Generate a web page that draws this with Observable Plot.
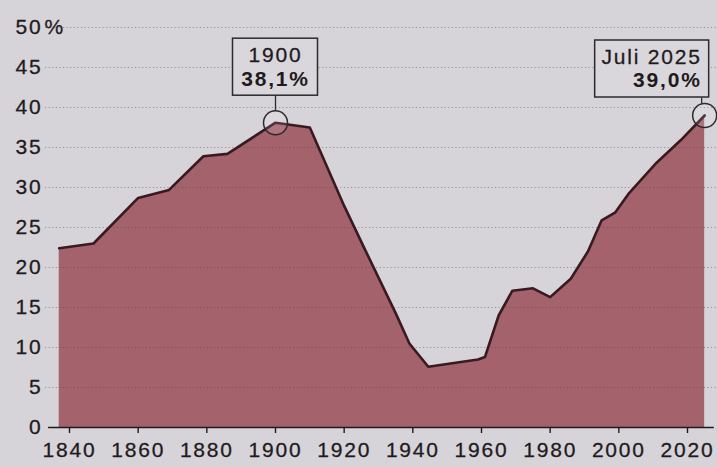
<!DOCTYPE html>
<html><head><meta charset="utf-8">
<script src="https://cdn.jsdelivr.net/npm/d3@7"></script>
<script src="https://cdn.jsdelivr.net/npm/@observablehq/plot@0.6"></script>
<style>body{margin:0;background:#d6d4d9;overflow:hidden}</style>
</head><body><div id="chart"></div>
<script>
// Data
const years  = [1837, 1847, 1860, 1869, 1879, 1886, 1900, 1910, 1920, 1926, 1935, 1939, 1944.5, 1951, 1959, 1961, 1965, 1969, 1975, 1980, 1986, 1991, 1995, 1999, 2003, 2011, 2018, 2025];
const values = [22.4, 23.0, 28.7, 29.7, 33.9, 34.2, 38.1, 37.5, 27.7, 22.3, 14.3, 10.5, 7.6, 8.0, 8.5, 8.8, 14.0, 17.1, 17.4, 16.3, 18.6, 22.0, 25.9, 26.9, 29.3, 33.1, 35.9, 39.0];
const xTicks = [1840, 1860, 1880, 1900, 1920, 1940, 1960, 1980, 2000, 2020];
const yTicks = [0, 5, 10, 15, 20, 25, 30, 35, 40, 45, 50];
const annoYears  = [1900, 2025];
const annoValues = [38.1, 39.0];
const annoTop    = ["1900", "Juli 2025"];
const annoBottom = ["38,1%", "39,0%"];

const data = years.map((year, i) => ({year, value: values[i]}));
const anno = annoYears.map((year, i) => ({year, value: annoValues[i], top: annoTop[i], bottom: annoBottom[i], i}));

// pixel -> data unit helpers for annotation offsets
const XR = [69, 687], XD = [1840, 2020], YR = [427, 27], YD = [0, 50];
const pxX = (p) => p * (XD[1] - XD[0]) / (XR[1] - XR[0]);
const pxY = (p) => -p * (YD[1] - YD[0]) / (YR[0] - YR[1]);
// box geometry relative to the annotated point (pixels)
const boxL = [-42.5, -109.5], boxR = [42.5, 4.5], boxT = [-84, -75], boxB = [-27, -18];

const ink = "#1f1b1d";
const plot = Plot.plot({
  width: 717, height: 467,
  marginLeft: 0, marginRight: 0, marginTop: 0, marginBottom: 0,
  x: {domain: XD, range: XR, axis: null},
  y: {domain: YD, range: YR, axis: null},
  style: {background: "#d6d4d9", fontFamily: "'Liberation Sans', Arial, sans-serif", fontSize: "21px", letterSpacing: "1.8px", color: ink, overflow: "visible"},
  marks: [
    Plot.areaY(data, {x: "year", y: "value", fill: "#a4626d"}),
    Plot.ruleY(yTicks.filter(d => d > 0), {x1: 1833, x2: 2030, stroke: "#4a4548", strokeOpacity: 0.45, strokeWidth: 1.2, strokeDasharray: "1.2,2.4"}),
    Plot.lineY(data, {x: "year", y: "value", stroke: "#3a1a21", strokeWidth: 2.6, strokeLinejoin: "round"}),
    Plot.ruleY([0], {x1: 1833.9, x2: 2027.8, stroke: ink, strokeWidth: 1.6}),
    Plot.ruleX(xTicks, {x: d => d, y1: 0, y2: pxY(6), stroke: ink, strokeWidth: 1.4}),
    Plot.text(xTicks, {x: d => d, y: 0, dy: 23, text: d => String(d), fill: ink, stroke: ink, strokeWidth: 0.3}),
    Plot.text(yTicks, {x: 1840, dx: -27, y: d => d, text: d => String(d), textAnchor: "end", fill: ink, stroke: ink, strokeWidth: 0.3}),
    Plot.text(["%"], {x: 1840, y: 50, dx: -25, textAnchor: "start", fill: ink, stroke: ink, strokeWidth: 0.3}),
    // annotations
    Plot.dot(anno, {x: "year", y: "value", r: 12, stroke: "#2c2a2c", strokeWidth: 1.5, fill: "#ffffff", fillOpacity: 0.12}),
    Plot.link(anno, {x1: d => d.year + (d.i ? pxX(-3) : 0), x2: d => d.year + (d.i ? pxX(-3) : 0), y1: d => d.value + pxY(-12), y2: d => d.value + pxY(boxB[d.i]), stroke: "#2c2a2c", strokeWidth: 1.3}),
    Plot.rect(anno, {x1: d => d.year + pxX(boxL[d.i]), x2: d => d.year + pxX(boxR[d.i]), y1: d => d.value + pxY(boxT[d.i]), y2: d => d.value + pxY(boxB[d.i]), fill: "#d9d7dc", stroke: "#2c2a2c", strokeWidth: 1.5}),
    Plot.text(anno.filter(d => d.i === 0), {x: "year", y: "value", dy: -67, text: "top", fill: ink, stroke: ink, strokeWidth: 0.3}),
    Plot.text(anno.filter(d => d.i === 0), {x: "year", y: "value", dy: -43, text: "bottom", fontWeight: "bold", fill: ink}),
    Plot.text(anno.filter(d => d.i === 1), {x: "year", y: "value", dx: -3, dy: -58, text: "top", textAnchor: "end", fill: ink, stroke: ink, strokeWidth: 0.3}),
    Plot.text(anno.filter(d => d.i === 1), {x: "year", y: "value", dx: -3, dy: -35, text: "bottom", textAnchor: "end", fontWeight: "bold", fill: ink})
  ]
});
document.getElementById("chart").append(plot);
</script>
</body></html>
